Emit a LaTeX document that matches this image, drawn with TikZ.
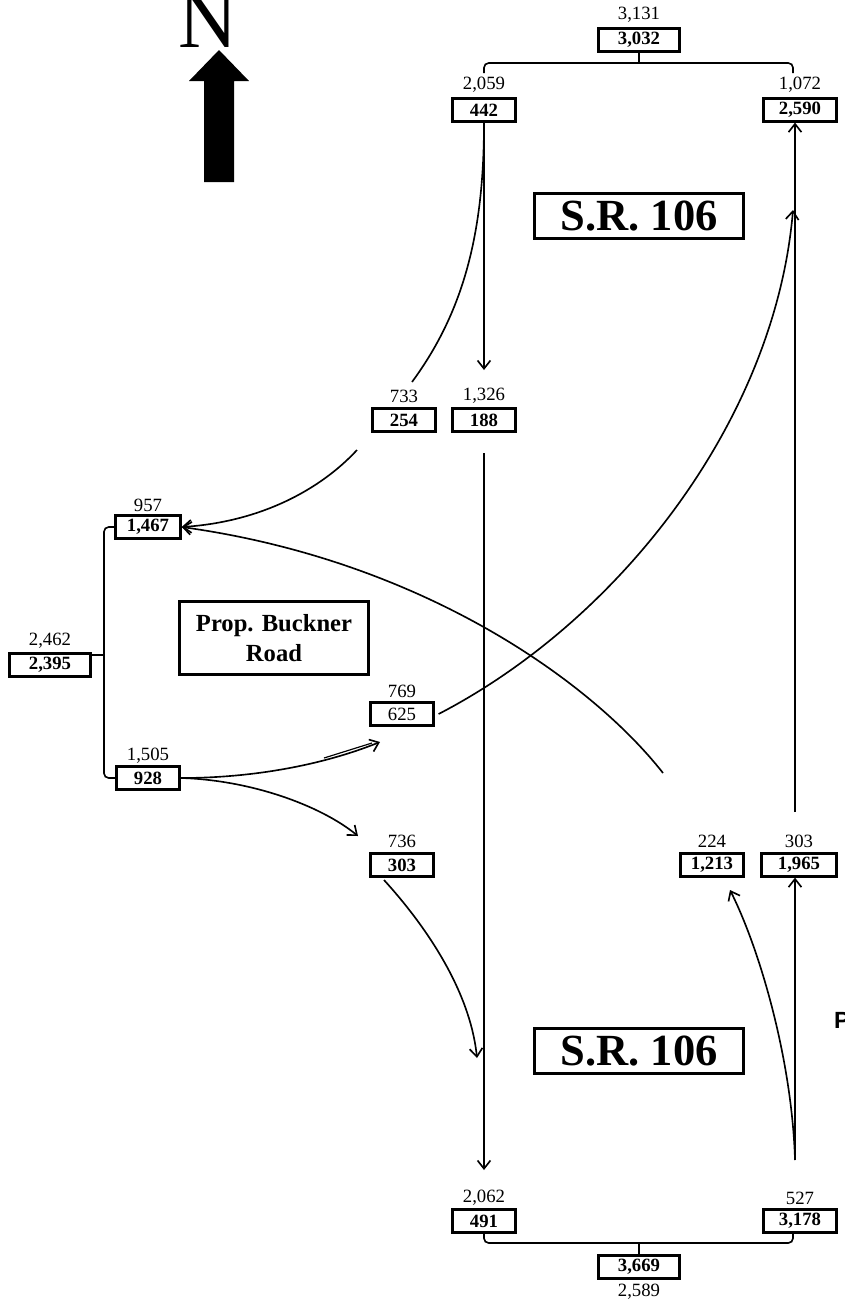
\documentclass[tikz,border=0pt]{standalone}
\usepackage{fontspec}
\setmainfont{Liberation Serif}
\setsansfont{Liberation Sans}
\usetikzlibrary{arrows.meta}

\tikzset{
  vol/.style={draw, line width=2.5pt, inner sep=0pt, minimum height=19pt,
    font=\bfseries\fontsize{16}{16}\selectfont},
  vol-s/.style={vol, minimum width=53pt},
  vol-m/.style={vol, minimum width=63pt},
  vol-l/.style={vol, minimum width=69pt},
  am/.style={inner sep=0pt, font=\fontsize{16}{16}\selectfont},
  road/.style={draw, line width=2.5pt, align=center, inner sep=0pt,
    font=\bfseries},
  sr/.style={road, minimum width=178pt, minimum height=38pt,
    font=\bfseries\fontsize{38}{38}\selectfont},
  flow/.style={line width=1.4pt, -{Straight Barb[length=7pt,width=11pt]}},
  tie/.style={line width=1.4pt, rounded corners=4pt},
}

\begin{document}
\begin{tikzpicture}[x=0.03cm, y=-0.03cm]

    % Clip mask
    \useasboundingbox (0,0) rectangle (845,1305);
    \clip (0,0) rectangle (845,1305);

  % North arrow
  \node[anchor=base, inner sep=0pt, font=\fontsize{70}{70}\selectfont] (north) at (208,47) {N};
  \fill (219,50) -- (249,81) -- (234,81) -- (234,182) -- (204,182) -- (204,81) -- (189,81) -- cycle;

  % Road names
  \node[sr] (sr-north) at (639,216) {S.R. 106};
  \node[sr] (sr-south) at (639,1051) {S.R. 106};
  \node[road, minimum width=161pt, minimum height=63pt, font=\bfseries\fontsize{21}{25}\selectfont] (buckner) at (274,638) {Prop. Buckner\\Road};
  \node[anchor=west, inner sep=0pt, font=\sffamily\bfseries\fontsize{20}{20}\selectfont] (cut) at (834,1020) {P};

  % S.R. 106 north leg
  \node[vol-l] (n-tot) at (639,40) {3,032};
  \node[am] (n-tot-am) at (639,15) {3,131};
  \node[vol-s] (n-in) at (484,110) {442};
  \node[am] (n-in-am) at (484,85) {2,059};
  \node[vol-m] (n-out) at (800,110) {2,590};
  \node[am] (n-out-am) at (800,85) {1,072};
  \draw[tie] (n-tot.south) -- (639,63);
  \draw[tie] (484,73) -- (484,63) -- (793,63) -- (793,73);

  % Buckner Road west leg
  \node[vol-s] (w-in) at (404,420) {254};
  \node[am] (w-in-am) at (404,396) {733};
  \node[vol-s] (w-out) at (484,420) {188};
  \node[am] (w-out-am) at (484,396) {1,326};
  \node[vol-s, minimum width=55pt] (b-in) at (148,527) {1,467};
  \node[am] (b-in-am) at (148,505) {957};
  \node[vol-l] (b-tot) at (50,665) {2,395};
  \node[am] (b-tot-am) at (50,641) {2,462};
  \node[vol-s, minimum width=54pt] (b-out) at (148,778) {928};
  \node[am] (b-out-am) at (148,756) {1,505};
  \draw[tie] (b-in.west) -- (104,527) -- (104,778) -- (b-out.west);
  \draw[tie] (92,655) -- (104,655);

  % East side of the interchange
  \node[vol-s, minimum width=54pt, font=\fontsize{16}{16}\selectfont] (e-in) at (402,714) {625};
  \node[am] (e-in-am) at (402,691) {769};
  \node[vol-s, minimum width=54pt] (e-out) at (402,865) {303};
  \node[am] (e-out-am) at (402,841) {736};
  \node[vol-s] (s-in) at (712,865) {1,213};
  \node[am] (s-in-am) at (712,841) {224};
  \node[vol-m, minimum width=64pt] (s-out) at (799,865) {1,965};
  \node[am] (s-out-am) at (799,841) {303};

  % S.R. 106 south leg
  \node[vol-s] (s-l) at (484,1221) {491};
  \node[am] (s-l-am) at (484,1198) {2,062};
  \node[vol-m] (s-r) at (800,1221) {3,178};
  \node[am] (s-r-am) at (800,1198) {527};
  \node[vol-l] (s-tot) at (639,1267) {3,669};
  \node[am] (s-tot-am) at (639,1292) {2,589};
  \draw[tie] (484,1233) -- (484,1243) -- (793,1243) -- (793,1233);
  \draw[tie] (639,1243) -- (s-tot.north);

  % Free ends of the movements
  \coordinate (a1) at (484,370);
  \coordinate (a2) at (412,382);
  \coordinate (a3) at (357,450);
  \coordinate (a4) at (484,453);
  \coordinate (a5) at (484,1170);
  \coordinate (a6) at (663,773);
  \coordinate (a7) at (793,210);
  \coordinate (a8) at (380,742);
  \coordinate (a9) at (358,836);
  \coordinate (a10) at (477,1058);
  \coordinate (a11) at (795,1160);
  \coordinate (a12) at (795,812);

  % Movements
  \draw[flow] (n-in.south) -- (a1);
  \draw[line width=1.4pt] (n-in.south) .. controls (484,230) and (465,310) .. (a2);
  \draw[flow] (a3) .. controls (320,490) and (260,522) .. (b-in.east);
  \draw[flow] (a4) -- (a5);
  \draw[flow] (a6) .. controls (590,680) and (420,560) .. (b-in.east);
  \draw[flow] ([xshift=3pt]e-in.east) .. controls (620,620) and (775,420) .. (a7);
  \draw[flow] (b-out.east) .. controls (250,778) and (320,766) .. (a8);
  \draw[line width=1pt] (324,758) -- (372,743);
  \draw[flow] (b-out.east) .. controls (250,780) and (320,805) .. (a9);
  \draw[flow] (384,880) .. controls (425,925) and (470,990) .. (a10);
  \draw[flow] (a11) -- (s-out.south -| a11);
  \draw[flow] (a11) .. controls (792,1060) and (760,950) .. (730,890);
  \draw[flow] (a12) -- (n-out.south -| a12);

\end{tikzpicture}
\end{document}
